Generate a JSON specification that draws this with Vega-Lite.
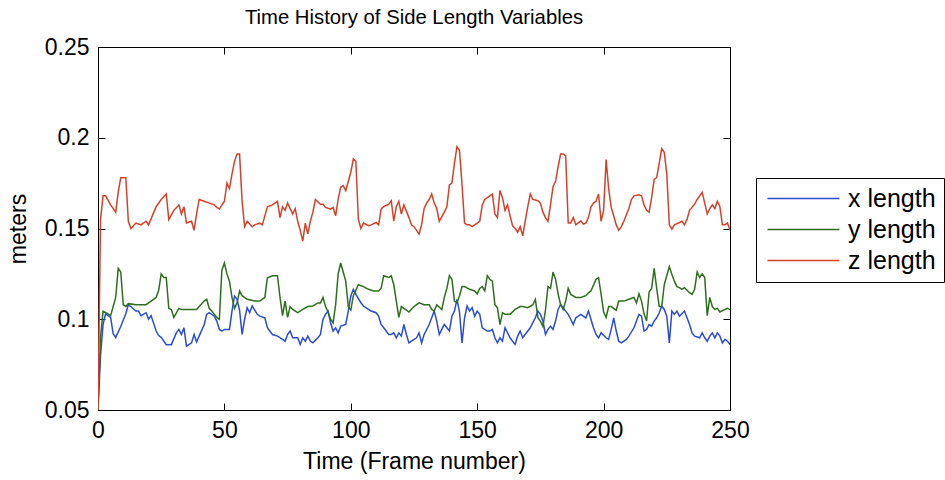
{
  "$schema": "https://vega.github.io/schema/vega-lite/v6.json",
  "width": 632,
  "height": 363,
  "autosize": "none",
  "padding": {"left": 98, "top": 47, "right": 215, "bottom": 70},
  "background": "white",
  "config": {
    "font": "Liberation Sans",
    "view": {"stroke": "black", "strokeWidth": 1},
    "axis": {
      "domainColor": "black", "tickColor": "black", "labelColor": "black", "titleColor": "black",
      "labelFontSize": 23, "titleFontSize": 23, "titleFontWeight": "normal", "grid": false,
      "tickSize": -7, "labelPadding": 16, "labelFlush": false
    }
  },
  "title": {"text": "Time History of Side Length Variables", "fontSize": 20.3, "fontWeight": "normal", "color": "black", "anchor": "middle", "offset": 8},
  "datasets": {
    "xl": [{"t":0,"v":0.05},{"t":1,"v":0.08},{"t":2,"v":0.097},{"t":3,"v":0.103},{"t":5,"v":0.101},{"t":6,"v":0.092},{"t":7,"v":0.09},{"t":9,"v":0.096},{"t":11,"v":0.103},{"t":12,"v":0.108},{"t":13,"v":0.107},{"t":15,"v":0.1045},{"t":16,"v":0.1045},{"t":17,"v":0.102},{"t":19,"v":0.1036},{"t":20,"v":0.1},{"t":21,"v":0.102},{"t":23,"v":0.0935},{"t":24,"v":0.091},{"t":25,"v":0.09},{"t":27,"v":0.086},{"t":29,"v":0.086},{"t":31,"v":0.0925},{"t":32,"v":0.0944},{"t":33,"v":0.0916},{"t":34,"v":0.0953},{"t":35,"v":0.0852},{"t":37,"v":0.087},{"t":38,"v":0.0916},{"t":39,"v":0.0875},{"t":40,"v":0.0907},{"t":42,"v":0.097},{"t":43,"v":0.1027},{"t":44,"v":0.1036},{"t":46,"v":0.1017},{"t":47,"v":0.099},{"t":48,"v":0.0944},{"t":49,"v":0.0935},{"t":50,"v":0.0944},{"t":52,"v":0.0944},{"t":53,"v":0.1045},{"t":54,"v":0.1128},{"t":55,"v":0.111},{"t":56,"v":0.105},{"t":57,"v":0.0916},{"t":58,"v":0.1},{"t":59,"v":0.1064},{"t":60,"v":0.1036},{"t":61,"v":0.1073},{"t":63,"v":0.1027},{"t":64,"v":0.1017},{"t":66,"v":0.1008},{"t":67,"v":0.0953},{"t":69,"v":0.0916},{"t":71,"v":0.0907},{"t":73,"v":0.0889},{"t":74,"v":0.0879},{"t":75,"v":0.0916},{"t":76,"v":0.0935},{"t":77,"v":0.0898},{"t":79,"v":0.0898},{"t":80,"v":0.0861},{"t":81,"v":0.0898},{"t":82,"v":0.0879},{"t":83,"v":0.0907},{"t":84,"v":0.088},{"t":85,"v":0.087},{"t":87,"v":0.0898},{"t":88,"v":0.0916},{"t":89,"v":0.1},{"t":90,"v":0.1027},{"t":91,"v":0.1045},{"t":92,"v":0.0981},{"t":93,"v":0.0935},{"t":94,"v":0.0953},{"t":95,"v":0.0925},{"t":96,"v":0.0962},{"t":98,"v":0.0971},{"t":99,"v":0.1045},{"t":100,"v":0.1128},{"t":101,"v":0.1165},{"t":102,"v":0.1137},{"t":104,"v":0.1091},{"t":105,"v":0.1073},{"t":107,"v":0.1054},{"t":108,"v":0.1045},{"t":110,"v":0.1036},{"t":111,"v":0.1017},{"t":112,"v":0.0971},{"t":114,"v":0.0935},{"t":115,"v":0.0916},{"t":116,"v":0.0916},{"t":117,"v":0.0925},{"t":118,"v":0.0898},{"t":119,"v":0.0925},{"t":120,"v":0.0907},{"t":121,"v":0.0971},{"t":122,"v":0.0916},{"t":123,"v":0.087},{"t":124,"v":0.088},{"t":126,"v":0.0898},{"t":127,"v":0.0925},{"t":128,"v":0.087},{"t":129,"v":0.0916},{"t":131,"v":0.0971},{"t":132,"v":0.1008},{"t":133,"v":0.1045},{"t":134,"v":0.099},{"t":135,"v":0.0916},{"t":136,"v":0.0944},{"t":137,"v":0.0971},{"t":139,"v":0.0935},{"t":140,"v":0.1017},{"t":141,"v":0.1045},{"t":142,"v":0.111},{"t":143,"v":0.104},{"t":144,"v":0.087},{"t":145,"v":0.1008},{"t":146,"v":0.1073},{"t":147,"v":0.1045},{"t":148,"v":0.1064},{"t":149,"v":0.1017},{"t":150,"v":0.1045},{"t":151,"v":0.1027},{"t":152,"v":0.0953},{"t":154,"v":0.0935},{"t":155,"v":0.0935},{"t":156,"v":0.0944},{"t":157,"v":0.0898},{"t":158,"v":0.087},{"t":159,"v":0.0898},{"t":160,"v":0.0879},{"t":161,"v":0.0953},{"t":163,"v":0.0898},{"t":164,"v":0.0879},{"t":165,"v":0.0861},{"t":166,"v":0.0907},{"t":167,"v":0.0935},{"t":168,"v":0.0898},{"t":170,"v":0.0935},{"t":171,"v":0.0953},{"t":172,"v":0.0981},{"t":173,"v":0.1008},{"t":174,"v":0.1045},{"t":175,"v":0.1027},{"t":176,"v":0.099},{"t":177,"v":0.0916},{"t":178,"v":0.0944},{"t":179,"v":0.0962},{"t":180,"v":0.0944},{"t":181,"v":0.099},{"t":182,"v":0.1054},{"t":183,"v":0.1082},{"t":185,"v":0.1045},{"t":186,"v":0.1027},{"t":187,"v":0.1},{"t":188,"v":0.0971},{"t":189,"v":0.1008},{"t":190,"v":0.1017},{"t":191,"v":0.1027},{"t":193,"v":0.1008},{"t":194,"v":0.1045},{"t":195,"v":0.1},{"t":196,"v":0.0953},{"t":197,"v":0.0916},{"t":198,"v":0.0898},{"t":199,"v":0.0925},{"t":201,"v":0.0898},{"t":202,"v":0.0889},{"t":203,"v":0.0944},{"t":204,"v":0.1008},{"t":205,"v":0.0935},{"t":206,"v":0.0879},{"t":207,"v":0.087},{"t":208,"v":0.0879},{"t":209,"v":0.0889},{"t":210,"v":0.0907},{"t":212,"v":0.0953},{"t":214,"v":0.1027},{"t":215,"v":0.1017},{"t":216,"v":0.0935},{"t":217,"v":0.0944},{"t":218,"v":0.0971},{"t":219,"v":0.0962},{"t":220,"v":0.099},{"t":221,"v":0.1008},{"t":222,"v":0.1036},{"t":223,"v":0.1073},{"t":224,"v":0.1054},{"t":225,"v":0.1017},{"t":226,"v":0.087},{"t":227,"v":0.1045},{"t":228,"v":0.1027},{"t":229,"v":0.1045},{"t":230,"v":0.1017},{"t":232,"v":0.1045},{"t":233,"v":0.1008},{"t":234,"v":0.0971},{"t":235,"v":0.0925},{"t":236,"v":0.0907},{"t":238,"v":0.0898},{"t":239,"v":0.0925},{"t":240,"v":0.0898},{"t":241,"v":0.0879},{"t":242,"v":0.0907},{"t":243,"v":0.0925},{"t":244,"v":0.0898},{"t":245,"v":0.0925},{"t":246,"v":0.0907},{"t":247,"v":0.087},{"t":248,"v":0.0889},{"t":249,"v":0.0879},{"t":250,"v":0.0861}],
    "yl": [{"t":0,"v":0.05},{"t":1,"v":0.09},{"t":2,"v":0.1045},{"t":4,"v":0.103},{"t":5,"v":0.102},{"t":7,"v":0.112},{"t":8,"v":0.128},{"t":9,"v":0.126},{"t":10,"v":0.108},{"t":11,"v":0.107},{"t":12,"v":0.1086},{"t":15,"v":0.108},{"t":19,"v":0.108},{"t":21,"v":0.11},{"t":23,"v":0.112},{"t":24,"v":0.116},{"t":25,"v":0.125},{"t":26,"v":0.123},{"t":27,"v":0.123},{"t":28,"v":0.106},{"t":29,"v":0.1054},{"t":30,"v":0.101},{"t":32,"v":0.106},{"t":33,"v":0.1054},{"t":36,"v":0.1054},{"t":39,"v":0.1054},{"t":40,"v":0.107},{"t":42,"v":0.11},{"t":43,"v":0.111},{"t":44,"v":0.106},{"t":45,"v":0.1045},{"t":46,"v":0.1027},{"t":47,"v":0.101},{"t":48,"v":0.1},{"t":49,"v":0.127},{"t":50,"v":0.131},{"t":51,"v":0.125},{"t":52,"v":0.121},{"t":53,"v":0.112},{"t":54,"v":0.106},{"t":55,"v":0.109},{"t":56,"v":0.1156},{"t":57,"v":0.113},{"t":59,"v":0.111},{"t":62,"v":0.11},{"t":64,"v":0.11},{"t":66,"v":0.112},{"t":67,"v":0.1229},{"t":69,"v":0.124},{"t":71,"v":0.124},{"t":72,"v":0.112},{"t":73,"v":0.102},{"t":74,"v":0.11},{"t":75,"v":0.101},{"t":76,"v":0.107},{"t":77,"v":0.1054},{"t":79,"v":0.1036},{"t":81,"v":0.1054},{"t":83,"v":0.107},{"t":85,"v":0.1073},{"t":87,"v":0.109},{"t":88,"v":0.109},{"t":89,"v":0.112},{"t":90,"v":0.107},{"t":91,"v":0.104},{"t":92,"v":0.1},{"t":93,"v":0.098},{"t":94,"v":0.108},{"t":95,"v":0.125},{"t":96,"v":0.131},{"t":97,"v":0.126},{"t":98,"v":0.121},{"t":99,"v":0.107},{"t":100,"v":0.105},{"t":101,"v":0.113},{"t":103,"v":0.119},{"t":105,"v":0.118},{"t":107,"v":0.1165},{"t":109,"v":0.1156},{"t":111,"v":0.1156},{"t":112,"v":0.117},{"t":113,"v":0.124},{"t":115,"v":0.123},{"t":116,"v":0.124},{"t":117,"v":0.119},{"t":118,"v":0.11},{"t":119,"v":0.101},{"t":120,"v":0.107},{"t":122,"v":0.105},{"t":123,"v":0.104},{"t":125,"v":0.107},{"t":127,"v":0.109},{"t":129,"v":0.108},{"t":131,"v":0.108},{"t":132,"v":0.1054},{"t":133,"v":0.1045},{"t":134,"v":0.108},{"t":136,"v":0.1054},{"t":137,"v":0.112},{"t":138,"v":0.117},{"t":139,"v":0.124},{"t":140,"v":0.122},{"t":141,"v":0.11},{"t":142,"v":0.109},{"t":143,"v":0.113},{"t":144,"v":0.118},{"t":145,"v":0.118},{"t":147,"v":0.1165},{"t":149,"v":0.1156},{"t":150,"v":0.114},{"t":151,"v":0.117},{"t":152,"v":0.118},{"t":153,"v":0.1156},{"t":154,"v":0.124},{"t":155,"v":0.122},{"t":156,"v":0.121},{"t":157,"v":0.108},{"t":158,"v":0.1064},{"t":159,"v":0.097},{"t":160,"v":0.1036},{"t":161,"v":0.1027},{"t":163,"v":0.1027},{"t":165,"v":0.1054},{"t":167,"v":0.107},{"t":168,"v":0.107},{"t":170,"v":0.1064},{"t":172,"v":0.108},{"t":173,"v":0.111},{"t":174,"v":0.101},{"t":175,"v":0.099},{"t":176,"v":0.096},{"t":177,"v":0.105},{"t":178,"v":0.118},{"t":179,"v":0.117},{"t":180,"v":0.126},{"t":181,"v":0.122},{"t":182,"v":0.114},{"t":183,"v":0.108},{"t":184,"v":0.1054},{"t":185,"v":0.11},{"t":186,"v":0.117},{"t":187,"v":0.1137},{"t":189,"v":0.112},{"t":191,"v":0.112},{"t":193,"v":0.113},{"t":194,"v":0.1146},{"t":195,"v":0.1156},{"t":197,"v":0.122},{"t":198,"v":0.1229},{"t":199,"v":0.114},{"t":200,"v":0.104},{"t":201,"v":0.101},{"t":202,"v":0.107},{"t":203,"v":0.107},{"t":205,"v":0.105},{"t":206,"v":0.11},{"t":208,"v":0.11},{"t":210,"v":0.111},{"t":212,"v":0.112},{"t":213,"v":0.109},{"t":214,"v":0.114},{"t":215,"v":0.11},{"t":216,"v":0.103},{"t":217,"v":0.099},{"t":218,"v":0.115},{"t":219,"v":0.117},{"t":220,"v":0.128},{"t":221,"v":0.117},{"t":222,"v":0.107},{"t":223,"v":0.107},{"t":224,"v":0.119},{"t":226,"v":0.129},{"t":227,"v":0.1248},{"t":228,"v":0.121},{"t":229,"v":0.118},{"t":230,"v":0.1174},{"t":231,"v":0.1165},{"t":232,"v":0.1174},{"t":234,"v":0.1146},{"t":235,"v":0.1137},{"t":236,"v":0.1165},{"t":237,"v":0.126},{"t":238,"v":0.123},{"t":239,"v":0.125},{"t":240,"v":0.123},{"t":241,"v":0.102},{"t":242,"v":0.112},{"t":243,"v":0.107},{"t":244,"v":0.1054},{"t":245,"v":0.106},{"t":246,"v":0.104},{"t":248,"v":0.1054},{"t":249,"v":0.106},{"t":250,"v":0.1054}],
    "zl": [{"t":0,"v":0.05},{"t":1,"v":0.155},{"t":2,"v":0.168},{"t":3,"v":0.168},{"t":5,"v":0.163},{"t":7,"v":0.159},{"t":8,"v":0.17},{"t":9,"v":0.178},{"t":11,"v":0.178},{"t":12,"v":0.154},{"t":13,"v":0.15},{"t":15,"v":0.153},{"t":17,"v":0.152},{"t":19,"v":0.154},{"t":20,"v":0.152},{"t":23,"v":0.162},{"t":25,"v":0.166},{"t":27,"v":0.169},{"t":28,"v":0.155},{"t":30,"v":0.16},{"t":32,"v":0.163},{"t":33,"v":0.158},{"t":34,"v":0.162},{"t":35,"v":0.153},{"t":37,"v":0.154},{"t":38,"v":0.149},{"t":39,"v":0.158},{"t":40,"v":0.166},{"t":42,"v":0.165},{"t":44,"v":0.164},{"t":46,"v":0.163},{"t":47,"v":0.1616},{"t":48,"v":0.1607},{"t":50,"v":0.165},{"t":51,"v":0.175},{"t":52,"v":0.172},{"t":53,"v":0.18},{"t":54,"v":0.187},{"t":55,"v":0.191},{"t":56,"v":0.191},{"t":57,"v":0.165},{"t":58,"v":0.151},{"t":59,"v":0.154},{"t":61,"v":0.151},{"t":62,"v":0.152},{"t":64,"v":0.153},{"t":65,"v":0.152},{"t":67,"v":0.162},{"t":69,"v":0.163},{"t":70,"v":0.164},{"t":71,"v":0.165},{"t":72,"v":0.156},{"t":73,"v":0.162},{"t":74,"v":0.16},{"t":75,"v":0.164},{"t":77,"v":0.158},{"t":78,"v":0.161},{"t":79,"v":0.154},{"t":80,"v":0.149},{"t":81,"v":0.143},{"t":82,"v":0.153},{"t":83,"v":0.147},{"t":84,"v":0.154},{"t":85,"v":0.159},{"t":86,"v":0.166},{"t":88,"v":0.1634},{"t":89,"v":0.1634},{"t":90,"v":0.1616},{"t":92,"v":0.1607},{"t":93,"v":0.1616},{"t":94,"v":0.157},{"t":95,"v":0.1662},{"t":96,"v":0.1727},{"t":97,"v":0.1736},{"t":98,"v":0.1708},{"t":100,"v":0.181},{"t":101,"v":0.1883},{"t":102,"v":0.187},{"t":103,"v":0.155},{"t":104,"v":0.15},{"t":105,"v":0.153},{"t":107,"v":0.1515},{"t":108,"v":0.152},{"t":110,"v":0.1533},{"t":111,"v":0.152},{"t":112,"v":0.1607},{"t":113,"v":0.162},{"t":115,"v":0.1634},{"t":116,"v":0.1653},{"t":117,"v":0.154},{"t":118,"v":0.162},{"t":119,"v":0.165},{"t":120,"v":0.158},{"t":121,"v":0.163},{"t":123,"v":0.156},{"t":124,"v":0.152},{"t":125,"v":0.151},{"t":127,"v":0.147},{"t":128,"v":0.152},{"t":129,"v":0.161},{"t":130,"v":0.164},{"t":131,"v":0.166},{"t":132,"v":0.169},{"t":133,"v":0.164},{"t":134,"v":0.161},{"t":135,"v":0.154},{"t":137,"v":0.159},{"t":138,"v":0.162},{"t":139,"v":0.174},{"t":140,"v":0.175},{"t":141,"v":0.186},{"t":142,"v":0.195},{"t":143,"v":0.193},{"t":144,"v":0.174},{"t":145,"v":0.153},{"t":146,"v":0.152},{"t":147,"v":0.152},{"t":148,"v":0.151},{"t":149,"v":0.152},{"t":150,"v":0.153},{"t":151,"v":0.154},{"t":152,"v":0.163},{"t":153,"v":0.166},{"t":155,"v":0.168},{"t":156,"v":0.169},{"t":157,"v":0.158},{"t":158,"v":0.156},{"t":159,"v":0.171},{"t":160,"v":0.167},{"t":161,"v":0.16},{"t":162,"v":0.163},{"t":163,"v":0.157},{"t":164,"v":0.1515},{"t":165,"v":0.15},{"t":166,"v":0.148},{"t":167,"v":0.151},{"t":168,"v":0.146},{"t":169,"v":0.154},{"t":170,"v":0.162},{"t":171,"v":0.169},{"t":172,"v":0.166},{"t":173,"v":0.1657},{"t":174,"v":0.1653},{"t":175,"v":0.164},{"t":176,"v":0.159},{"t":177,"v":0.156},{"t":178,"v":0.154},{"t":179,"v":0.163},{"t":180,"v":0.173},{"t":181,"v":0.176},{"t":182,"v":0.184},{"t":183,"v":0.191},{"t":184,"v":0.191},{"t":185,"v":0.19},{"t":186,"v":0.153},{"t":187,"v":0.153},{"t":188,"v":0.156},{"t":189,"v":0.152},{"t":191,"v":0.1542},{"t":192,"v":0.1524},{"t":193,"v":0.153},{"t":194,"v":0.156},{"t":195,"v":0.162},{"t":196,"v":0.164},{"t":197,"v":0.165},{"t":198,"v":0.169},{"t":199,"v":0.154},{"t":200,"v":0.16},{"t":201,"v":0.188},{"t":202,"v":0.172},{"t":203,"v":0.1616},{"t":204,"v":0.157},{"t":205,"v":0.152},{"t":206,"v":0.149},{"t":207,"v":0.151},{"t":208,"v":0.154},{"t":210,"v":0.161},{"t":211,"v":0.166},{"t":212,"v":0.168},{"t":214,"v":0.1686},{"t":215,"v":0.168},{"t":216,"v":0.163},{"t":217,"v":0.16},{"t":218,"v":0.159},{"t":219,"v":0.167},{"t":220,"v":0.177},{"t":221,"v":0.178},{"t":222,"v":0.186},{"t":223,"v":0.194},{"t":224,"v":0.192},{"t":225,"v":0.18},{"t":226,"v":0.152},{"t":227,"v":0.1496},{"t":228,"v":0.152},{"t":230,"v":0.1533},{"t":231,"v":0.154},{"t":232,"v":0.152},{"t":233,"v":0.155},{"t":234,"v":0.16},{"t":236,"v":0.1634},{"t":237,"v":0.166},{"t":238,"v":0.168},{"t":239,"v":0.17},{"t":240,"v":0.164},{"t":241,"v":0.158},{"t":242,"v":0.161},{"t":243,"v":0.163},{"t":244,"v":0.161},{"t":245,"v":0.165},{"t":246,"v":0.162},{"t":247,"v":0.152},{"t":248,"v":0.152},{"t":249,"v":0.153},{"t":250,"v":0.149}]
  },
  "layer": [
    {
      "data": {"name": "xl"},
      "mark": {"type": "line", "strokeWidth": 1.5, "clip": true},
      "encoding": {
        "x": {"field": "t", "type": "quantitative", "scale": {"domain": [0, 250], "nice": false, "zero": false},
              "axis": {"orient": "bottom", "values": [0, 50, 100, 150, 200, 250], "title": "Time (Frame number)", "titlePadding": 8}},
        "y": {"field": "v", "type": "quantitative", "scale": {"domain": [0.05, 0.25], "nice": false, "zero": false},
              "axis": {"orient": "left", "values": [0.05, 0.1, 0.15, 0.2, 0.25], "format": "~g", "title": "meters", "titlePadding": 14}},
        "color": {"datum": "x length", "type": "nominal",
                  "scale": {"domain": ["x length", "y length", "z length"], "range": ["#2b4bd4", "#2f6e1f", "#d6402a"]},
                  "legend": {"orient": "none", "legendX": 658, "legendY": 131, "title": null, "strokeColor": "black", "fillColor": "white",
                             "padding": 8, "symbolType": "M-1,0H7", "symbolSize": 324, "symbolStrokeWidth": 1.5, "symbolFillColor": "transparent",
                             "labelFontSize": 25, "labelColor": "black", "rowPadding": 5, "labelOffset": 59}}
      }
    },
    {
      "data": {"name": "yl"},
      "mark": {"type": "line", "strokeWidth": 1.5, "clip": true},
      "encoding": {
        "x": {"field": "t", "type": "quantitative", "axis": null},
        "y": {"field": "v", "type": "quantitative", "axis": null},
        "color": {"datum": "y length", "type": "nominal"}
      }
    },
    {
      "data": {"name": "zl"},
      "mark": {"type": "line", "strokeWidth": 1.5, "clip": true},
      "encoding": {
        "x": {"field": "t", "type": "quantitative", "axis": {"orient": "top", "labels": false, "title": null, "values": [0, 50, 100, 150, 200, 250]}},
        "y": {"field": "v", "type": "quantitative", "axis": {"orient": "right", "labels": false, "title": null, "values": [0.05, 0.1, 0.15, 0.2, 0.25]}},
        "color": {"datum": "z length", "type": "nominal"}
      }
    }
  ],
  "resolve": {"axis": {"x": "independent", "y": "independent"}}
}
